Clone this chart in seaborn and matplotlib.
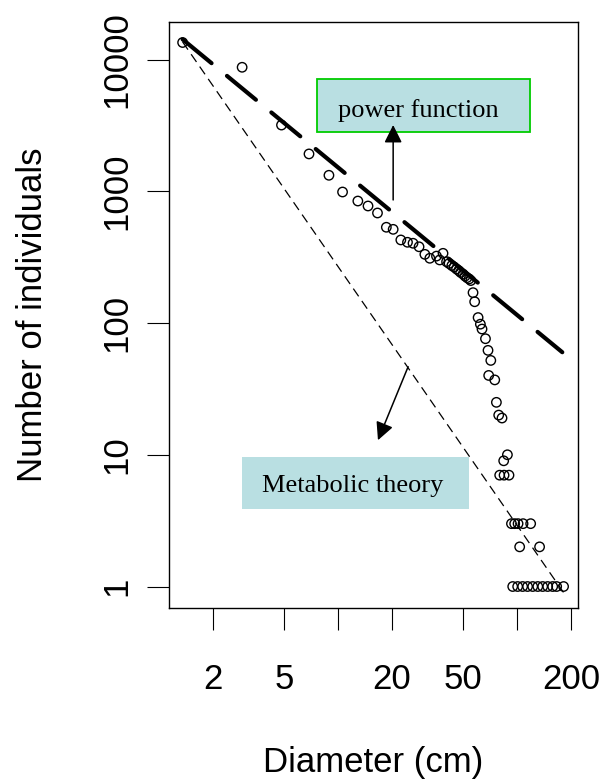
import numpy as np
import pandas as pd
import matplotlib
matplotlib.use("Agg")
import matplotlib.pyplot as plt
import seaborn as sns
from matplotlib.patches import Rectangle

# tree counts per diameter class
diameter = [1.36, 2.92, 4.84, 6.89, 8.9, 10.6, 12.9, 14.7, 16.6, 18.6,
            20.3, 22.4, 24.4, 26.2, 28.3, 30.5, 32.5, 35.4, 36.9, 38.5,
            40.3, 41.6, 43.1, 44.4, 45.8, 47.1, 48.3, 49.8, 51.1, 52.4,
            53.8, 55.0, 56.6, 57.8, 60.4, 62.2, 63.5, 66.4, 68.6, 71.1,
            69.2, 74.8, 76.4, 78.7, 82.1, 88.0, 83.9, 79.7, 84.3, 89.8,
            92.7, 96.6, 100.9, 107.6, 118.6, 103, 133,
            94.2, 100.4, 107, 114, 121.8, 130, 138.4, 147.6, 157.4, 165.6, 181]
individuals = [13460, 8730, 3180, 1920, 1322, 987, 843, 773, 684, 533,
               514, 427, 410, 403, 379, 332, 310, 322, 301, 338,
               292, 283, 273, 266, 257, 250, 242, 235, 227, 221,
               216, 210, 170, 145, 110, 98, 90, 76, 62, 52,
               40, 37, 25, 20, 19, 10, 9, 7, 7, 7,
               3, 3, 3, 3, 3, 2, 2,
               1, 1, 1, 1, 1, 1, 1, 1, 1, 1, 1]

# fitted lines, end points
power_x = [1.36, 178]
power_y = [14230, 60]
metab_x = [1.36, 181]
metab_y = [13600, 0.9]

x_ticks = [2, 5, 10, 20, 50, 100, 200]
x_tick_labels = ["2", "5", "", "20", "50", "", "200"]
y_ticks = [1, 10, 100, 1000, 10000]
y_tick_labels = ["1", "10", "100", "1000", "10000"]

df = pd.DataFrame({"Diameter": diameter, "N": individuals})

sns.set_theme(style="white")
plt.rcParams["font.family"] = ["Liberation Sans", "DejaVu Sans"]
plt.rcParams["text.color"] = "black"
plt.rcParams["axes.labelcolor"] = "black"
plt.rcParams["xtick.color"] = "black"
plt.rcParams["ytick.color"] = "black"

fig = plt.figure(figsize=(6.05, 7.81), dpi=100)
ax = fig.add_axes([169 / 605, 173 / 781, 409 / 605, 586 / 781])
ax.set_xscale("log")
ax.set_yscale("log")

sns.lineplot(x=power_x, y=power_y, ax=ax, color="black", lw=3.0,
             linestyle=(0, (9, 4.8)), dash_capstyle="round")
sns.lineplot(x=metab_x, y=metab_y, ax=ax, color="black", lw=0.9,
             linestyle=(0, (7.5, 4.5)))
sns.scatterplot(data=df, x="Diameter", y="N", ax=ax, marker="o", s=46,
                facecolor="none", edgecolor="black", linewidth=1.0, zorder=3)

ax.set_xlim(1.142, 217.8)
ax.set_ylim(0.687, 19260)

# label boxes
ax.add_patch(Rectangle((7.65, 2800), 117 - 7.65, 7110 - 2800, facecolor="#b9dfe2",
                       edgecolor="#00cc00", lw=1.3, zorder=4))
ax.text(28.2, 4079, "power function", ha="center", va="center", fontsize=19,
        family=["Liberation Serif"], color="black", zorder=5)
ax.add_patch(Rectangle((2.9, 3.88), 53.6 - 2.9, 9.57 - 3.88, facecolor="#b9dfe2",
                       edgecolor="none", zorder=4))
ax.text(12.07, 5.81, "Metabolic theory", ha="center", va="center", fontsize=19,
        family=["Liberation Serif"], color="black", zorder=5)

arrow = dict(arrowstyle="-|>,head_length=0.4,head_width=0.2", mutation_scale=27,
             color="black", lw=1.1, shrinkA=0, shrinkB=0)
ax.annotate("", xy=(20.3, 3184), xytext=(20.3, 859), arrowprops=arrow, zorder=6)
ax.annotate("", xy=(16.7, 12.9), xytext=(24.6, 46.6), arrowprops=arrow, zorder=6)

ax.set_xticks(x_ticks)
ax.set_xticklabels(x_tick_labels)
ax.set_yticks(y_ticks)
ax.set_yticklabels(y_tick_labels, rotation=90, va="center")
ax.minorticks_off()
ax.tick_params(axis="both", direction="out", length=15.8, width=0.8,
               color="black", labelcolor="black", labelsize=25,
               bottom=True, left=True)
ax.tick_params(axis="x", pad=24)
ax.tick_params(axis="y", pad=9.8)
for sp in ax.spines.values():
    sp.set_color("black")
    sp.set_linewidth(1.0)

ax.set_xlabel("Diameter (cm)", fontsize=25, color="black")
ax.set_ylabel("Number of individuals", fontsize=25, color="black")
ax.xaxis.label.set_va("center")
ax.yaxis.label.set_va("center")
ax.xaxis.set_label_coords(0.5, -0.2645)
ax.yaxis.set_label_coords(-0.3333, 0.5)

fig.savefig("out.png", dpi=100)
